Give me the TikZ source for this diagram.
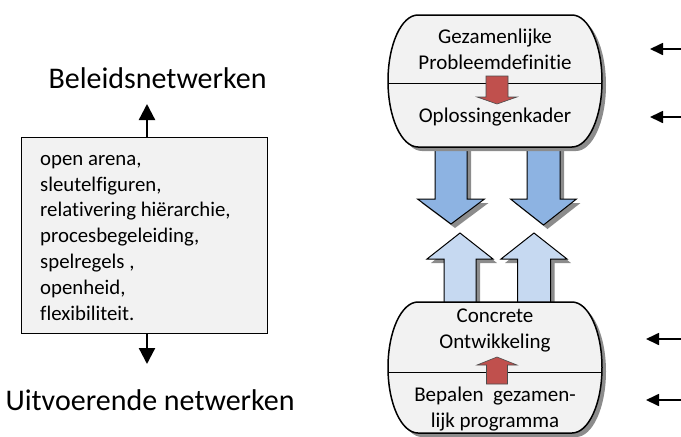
\documentclass[tikz,border=0pt]{standalone}
\usepackage{fontspec}
\setmainfont{Carlito}[Ligatures=NoCommon]
\usetikzlibrary{arrows.meta}
\definecolor{cylfill}{HTML}{F2F2F2}
\definecolor{darkblue}{HTML}{8DB3E2}
\definecolor{lightblue}{HTML}{C6D9F1}
\definecolor{redarrow}{HTML}{C0504D}
\definecolor{boxfill}{HTML}{F2F2F2}
\newcommand\myvarrow[7]{% center, shaft half, head half, start, base, tip, style
  \path[#7] ({#1-#2},#4) -- ({#1-#2},#5) -- ({#1-#3},#5) -- (#1,#6) -- ({#1+#3},#5) -- ({#1+#2},#5) -- ({#1+#2},#4) -- cycle;}
\newcommand\mycyl[3]{% top, bottom, style
  \path[#3] (418,#1) -- (572,#1) arc[start angle=-90,end angle=90,x radius=30,y radius={(#2-#1)/2}] -- (418,#2) arc[start angle=90,end angle=270,x radius=30,y radius={(#2-#1)/2}] -- cycle;}
\tikzset{
  txt/.style={font=\fontsize{21}{26}\selectfont, align=center, inner sep=0pt},
  big/.style={font=\fontsize{30}{30}\selectfont, inner sep=0pt},
  conn/.style={line width=2.3pt, -{Triangle[length=16pt,width=16pt]}},
  side/.style={line width=1.7pt, -{Triangle[length=13pt,width=12pt]}},
  shadowst/.style={fill=black!45},
  bluedark/.style={fill=darkblue, draw=black, line width=1pt},
  bluelight/.style={fill=lightblue, draw=black, line width=1pt},
  redst/.style={fill=redarrow, draw=black!70, line width=0.6pt},
}
\begin{document}
\begin{tikzpicture}[x=1pt,y=-1pt]
\useasboundingbox (0,0) rectangle (681,437);
% big blue arrows (behind cylinders)
\myvarrow{455}{16}{33.5}{140}{203}{228}{shadowst}
\myvarrow{451}{16}{33.5}{140}{199}{224}{bluedark}
\myvarrow{547.5}{16.5}{33}{140}{203}{229}{shadowst}
\myvarrow{543.5}{16.5}{33}{140}{199}{225}{bluedark}
\myvarrow{464}{16}{33}{315}{263}{237}{shadowst}
\myvarrow{460}{16}{33}{315}{259}{233}{bluelight}
\myvarrow{538}{16.5}{33}{315}{263}{237}{shadowst}
\myvarrow{534}{16.5}{33}{315}{259}{233}{bluelight}
% top cylinder
\begin{scope}[shift={(4,4)}]\mycyl{15}{147}{shadowst}\end{scope}
\mycyl{15}{147}{fill=cylfill}
\begin{scope}
\mycyl{15}{147}{clip}
\draw[line width=1pt] (380,83) -- (610,83);
\end{scope}
\mycyl{15}{147}{draw=black, line width=1.5pt}
% bottom cylinder
\begin{scope}[shift={(4,4)}]\mycyl{302}{433}{shadowst}\end{scope}
\mycyl{302}{433}{fill=cylfill}
\begin{scope}
\mycyl{302}{433}{clip}
\draw[line width=1pt] (380,372) -- (610,372);
\end{scope}
\mycyl{302}{433}{draw=black, line width=1.5pt}
% red arrows
\myvarrow{497}{11}{20}{76}{97}{104}{redst}
\myvarrow{497}{10.5}{20}{384}{365}{357}{redst}
% cylinder texts
\node[txt] (gez) at (495,49) {Gezamenlijke\\Probleemdefinitie};
\node[txt] (opl) at (495,117) {Oplossingenkader};
\node[txt] (con) at (495,330.5) {Concrete\\Ontwikkeling};
\node[txt] (bep) at (495,409) {Bepalen\ \ gezamen-\\lijk programma};
% side arrows
\coordinate (r1) at (681,49);
\coordinate (t1) at (650,49);
\coordinate (r2) at (681,117);
\coordinate (t2) at (650,117);
\coordinate (r3) at (681,339);
\coordinate (t3) at (646,339);
\coordinate (r4) at (681,400);
\coordinate (t4) at (646,400);
\draw[side] (r1) -- (t1);
\draw[side] (r2) -- (t2);
\draw[side] (r3) -- (t3);
\draw[side] (r4) -- (t4);
% left part
\node[draw=black, line width=1pt, fill=boxfill, minimum width=246pt, minimum height=196pt, inner sep=0pt] (box) at (144,235) {};
\node[anchor=north west, align=left, font=\fontsize{20.8}{25.8}\selectfont, inner sep=0pt] (list) at (40,155) {open arena,\\sleutelfiguren,\\relativering hiërarchie,\\procesbegeleiding,\\spelregels ,\\openheid,\\flexibiliteit.};
\node[big] (bel) at (157.5,78) {Beleidsnetwerken};
\node[big] (uit) at (150,400) {Uitvoerende netwerken};
\coordinate (upt) at (147,104);
\coordinate (dnt) at (147,364);
\draw[conn] (box.north -| upt) -- (upt);
\draw[conn] (box.south -| dnt) -- (dnt);
\end{tikzpicture}
\end{document}
